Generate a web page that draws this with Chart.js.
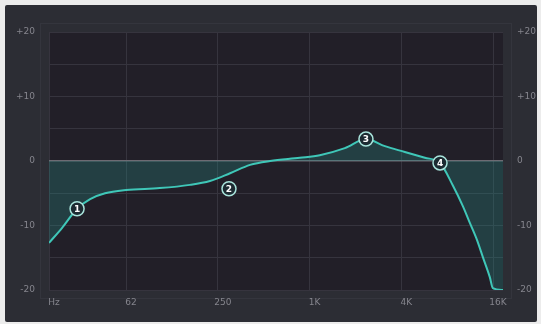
<!DOCTYPE html>
<html>
<head>
<meta charset="utf-8">
<script src="https://cdn.jsdelivr.net/npm/chart.js@4"></script>
<style>
  html, body { margin: 0; padding: 0; background: #ececec; width: 541px; height: 324px; overflow: hidden; }
  #frame { position: absolute; left: 5px; top: 5px; width: 532px; height: 317px; background: #2c2d34; border-radius: 2px; }
  #c { position: absolute; left: 0; top: 0; }
</style>
</head>
<body>
<div id="frame"></div>
<canvas id="c" width="541" height="324"></canvas>
<script>
// EQ response curve (frequency in Hz, gain in dB)
const curveFreqs = [19.5, 23.7, 29.8, 36.3, 45.5, 62.5, 104, 164, 222, 301, 407, 551, 863, 1167, 1705, 2345, 3120, 4220, 5710, 7180, 8720, 10140, 11270, 12530, 13720, 15240, 15950, 18600];
const curveGains = [-12.7, -10.4, -7.4, -5.9, -5.0, -4.5, -4.2, -3.7, -3.1, -1.9, -0.6, 0.0, 0.5, 0.9, 2.0, 3.4, 2.3, 1.4, 0.5, -0.3, -3.8, -7.0, -9.6, -12.2, -14.9, -18.0, -19.7, -20.0];

// Band handles
const bandFreqs = [29.8, 296, 2345, 7180];
const bandGains = [-7.4, -4.3, 3.4, -0.3];
const bandLabels = ['1', '2', '3', '4'];

// Axis ticks
const xTickValues = [19.5, 62.5, 250, 1000, 4000, 16000];
const xTickLabels = ['Hz', '62', '250', '1K', '4K', '16K'];
const xMin = 19.5, xMax = 18600;
const yMin = -20, yMax = 20, yStep = 5;

const fmtDb = v => (v % 10 !== 0) ? '' : (v > 0 ? '+' + v : String(v));
const tickFont = { size: 9, family: '"DejaVu Sans", sans-serif' };

const bgPlugin = {
  id: 'plotBg',
  beforeDraw(chart) {
    const { ctx, chartArea: a } = chart;
    ctx.save();
    ctx.strokeStyle = '#34353d';
    ctx.lineWidth = 1;
    ctx.strokeRect(a.left - 8.5, a.top - 8.5, a.right - a.left + 17, a.bottom - a.top + 17);
    ctx.fillStyle = '#221f28';
    ctx.fillRect(a.left, a.top, a.right - a.left, a.bottom - a.top);
    ctx.restore();
  }
};

const labelPlugin = {
  id: 'bandLabels',
  afterDatasetsDraw(chart) {
    const meta = chart.getDatasetMeta(1);
    const ctx = chart.ctx;
    ctx.save();
    ctx.font = 'bold 9px "DejaVu Sans", sans-serif';
    ctx.fillStyle = '#ffffff';
    ctx.textAlign = 'center';
    ctx.textBaseline = 'middle';
    meta.data.forEach((pt, i) => {
      ctx.fillText(bandLabels[i], pt.x, pt.y + 0.5);
    });
    ctx.restore();
  }
};

new Chart(document.getElementById('c'), {
  type: 'line',
  data: {
    datasets: [
      {
        data: curveFreqs.map((f, i) => ({ x: f, y: curveGains[i] })),
        borderColor: '#3fc7b8',
        borderWidth: 2,
        backgroundColor: 'rgba(40, 140, 132, 0.30)',
        fill: 'origin',
        pointRadius: 0,
        cubicInterpolationMode: 'monotone',
        order: 2
      },
      {
        data: bandFreqs.map((f, i) => ({ x: f, y: bandGains[i] })),
        showLine: false,
        pointRadius: 7,
        pointBackgroundColor: '#1c2b32',
        pointBorderColor: '#a9e4dc',
        pointBorderWidth: 1.5,
        order: 1
      }
    ]
  },
  options: {
    responsive: false,
    animation: false,
    events: [],
    layout: { padding: { top: 32, left: 0, right: 0, bottom: 0 } },
    plugins: { legend: { display: false }, tooltip: { enabled: false } },
    scales: {
      x: {
        type: 'logarithmic',
        min: xMin,
        max: xMax,
        afterBuildTicks: s => { s.ticks = xTickValues.map(v => ({ value: v })); },
        afterFit: s => { s.height = 34; },
        ticks: {
          autoSkip: false,
          maxRotation: 0,
          labelOffset: 5,
          padding: 7,
          color: '#85858d',
          font: tickFont,
          callback: (v, i) => xTickLabels[i]
        },
        grid: { color: '#36343e', lineWidth: 1, drawTicks: false },
        border: { display: false }
      },
      y: {
        position: 'left',
        min: yMin, max: yMax,
        afterFit: s => { s.width = 49; },
        ticks: {
          stepSize: yStep,
          padding: 14,
          color: '#85858d',
          font: tickFont,
          callback: fmtDb
        },
        grid: {
          drawTicks: false,
          color: c => c.tick.value === 0 ? '#6d6b73' : '#36343e',
          lineWidth: c => c.tick.value === 0 ? 1.5 : 1
        },
        border: { display: false }
      },
      y2: {
        position: 'right',
        min: yMin, max: yMax,
        afterFit: s => { s.width = 38; },
        ticks: {
          stepSize: yStep,
          padding: 14,
          color: '#85858d',
          font: tickFont,
          callback: fmtDb
        },
        grid: { display: false, drawTicks: false },
        border: { display: false }
      }
    }
  },
  plugins: [bgPlugin, labelPlugin]
});
</script>
</body>
</html>
